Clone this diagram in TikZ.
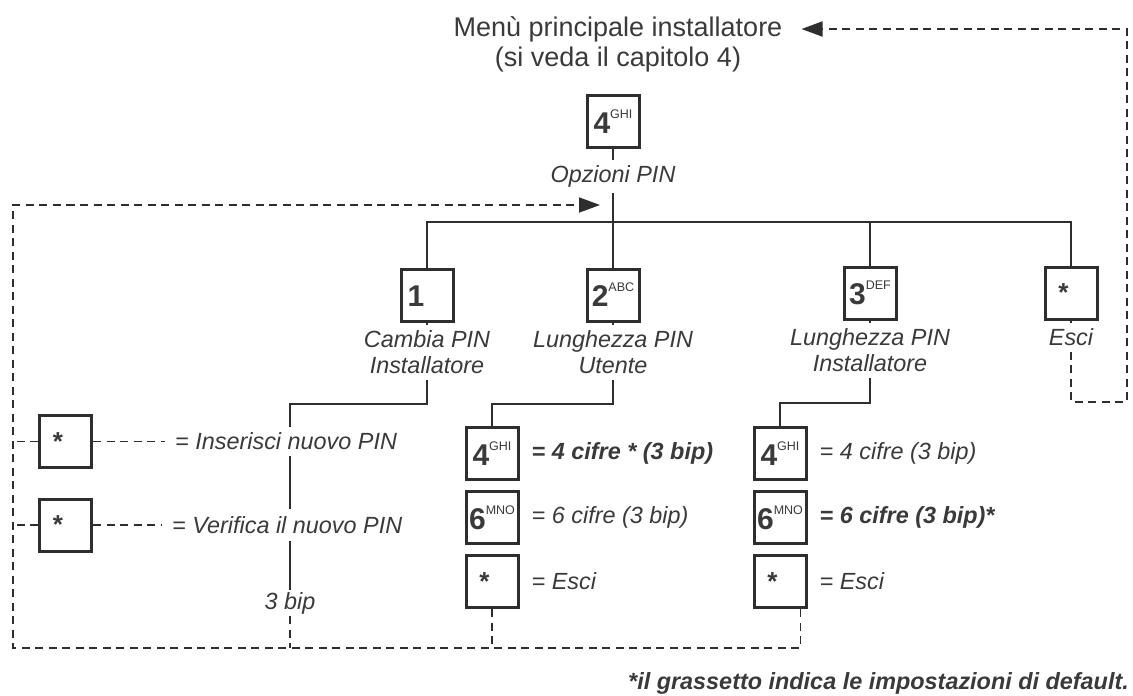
\documentclass[tikz,border=0pt]{standalone}
\usepackage{fontspec}
\setmainfont{Liberation Sans}
\usetikzlibrary{positioning,arrows.meta}

\definecolor{ink}{HTML}{2E2E2E}
\definecolor{textgray}{HTML}{3A3A3A}

\begin{document}
\begin{tikzpicture}[
    x=1pt, y=-1pt,
    node distance = 9pt,
    key/.style={draw=ink, line width=3pt, minimum width=52pt, minimum height=52pt, inner sep=0pt, text=textgray},
    lbl/.style={text=textgray, align=center, inner sep=2pt, outer sep=4pt, font=\fontsize{23.4}{26}\selectfont\itshape},
    opt/.style={text=textgray, inner sep=2pt, font=\fontsize{23.4}{26}\selectfont\itshape},
    optbold/.style={opt, font=\fontsize{23.4}{26}\selectfont\bfseries\itshape},
    tree/.style={draw=ink, line width=1.8pt},
    back/.style={draw=ink, line width=1.8pt, dash pattern=on 8pt off 5.5pt},
    tip/.style={-{Triangle[length=21pt, width=15pt]}},
]

% Define commands for the keypad keys (big digit, small letters)
\newcommand{\keycap}[2]{{\fontsize{30}{30}\selectfont\bfseries #1}\raisebox{15pt}{\fontsize{12.5}{12.5}\selectfont #2}}
\newcommand{\keystar}{{\fontsize{26}{26}\selectfont\bfseries *}\hspace*{15pt}}

% Canvas
\fill[white] (0,0) rectangle (1133,696);
\useasboundingbox (0,0) rectangle (1133,696);

% Installer main menu
\node[text=textgray, inner sep=2pt, font=\fontsize{27}{33}\selectfont] (menu) at (618,29) {Menù principale installatore};
\node[text=textgray, inner sep=2pt, font=\fontsize{27}{33}\selectfont] (menusub) at (618,59.5) {(si veda il capitolo 4)};

% PIN options key
\node[key] (pinkey) at (613,121.5) {\keycap{4}{GHI}};
\node[lbl, below=10.6pt of pinkey] (pinopt) {Opzioni PIN};

% First level keys with their labels
\node[key] (chgkey) at (427,295) {\keycap{1}{\phantom{GHI}}};
\node[key] (usrkey) at (613,295) {\keycap{2}{ABC}};
\node[key] (instkey) at (870,293) {\keycap{3}{DEF}};
\node[key] (exitkey) at (1071,293) {\keystar};

\node[lbl, below=2.1pt of chgkey] (chglbl) {Cambia PIN\\Installatore};
\node[lbl, below=2.1pt of usrkey] (usrlbl) {Lunghezza PIN\\Utente};
\node[lbl, below=2.1pt of instkey] (instlbl) {Lunghezza PIN\\Installatore};
\node[lbl, below=2.1pt of exitkey] (exitlbl) {Esci};

% Junction points
\coordinate (split) at (613,222);
\coordinate (chgjoin) at (290,404);
\coordinate (usrjoin) at (492,404);
\coordinate (instjoin) at (780,403);
\coordinate (backbl) at (13,648);
\coordinate (backtl) at (13,205);
\coordinate (backin) at (600,205);
\coordinate (exitbr) at (1127,402);
\coordinate (exittr) at (1127,29);

% Tree from the PIN options key
\draw[tree] (pinkey) -- (pinopt);
\draw[tree] (pinopt) -- (split);
\draw[tree] (chgkey) |- (split) -| (exitkey);
\draw[tree] (split) -- (usrkey);
\draw[tree] (instkey) -- (instkey |- split);
\draw[tree] (chgkey) -- (chglbl);
\draw[tree] (usrkey) -- (usrlbl);
\draw[tree] (instkey) -- (instlbl);
\draw[tree] (exitkey) -- (exitlbl);

% Change installer PIN: two star keys, then 3 beeps
\node[key] (newkey) at (65.5,441.5) {\keystar};
\node[key] (verkey) at (65.5,525) {\keystar};
\node[opt] (bip) at (290,603) {3 bip};
\draw[tree] (chglbl) |- (chgjoin) -- (bip);
\node[opt, inner ysep=5.5pt, fill=white, right=80pt of newkey] (newtxt) {= Inserisci nuovo PIN};
\node[opt, inner ysep=7pt, fill=white, right=77pt of verkey] (vertxt) {= Verifica il nuovo PIN};
\draw[back, shorten >=8pt] (newkey) -- (newtxt);
\draw[back, shorten >=8pt] (verkey) -- (vertxt);

% User PIN length
\node[key] (usr4) at (492,453.5) {\keycap{4}{GHI}};
\node[key, below=of usr4] (usr6) {\keycap{6}{MNO}};
\node[key, below=of usr6] (usrexit) {\keystar};
\node[optbold, right=10pt of usr4] (usr4txt) {= 4 cifre * (3 bip)};
\node[opt, right=10pt of usr6] (usr6txt) {= 6 cifre (3 bip)};
\node[opt, right=10pt of usrexit] (usrexittxt) {= Esci};
\draw[tree] (usrlbl) |- (usrjoin) -- (usr4);

% Installer PIN length
\node[key] (inst4) at (780,453.5) {\keycap{4}{GHI}};
\node[key, below=of inst4] (inst6) {\keycap{6}{MNO}};
\node[key, below=of inst6] (instexit) {\keystar};
\node[opt, right=10pt of inst4] (inst4txt) {= 4 cifre (3 bip)};
\node[optbold, right=10pt of inst6] (inst6txt) {= 6 cifre (3 bip)*};
\node[opt, right=10pt of instexit] (instexittxt) {= Esci};
\draw[tree] (instlbl) |- (instjoin) -- (inst4);

% Dashed return paths back to PIN options
\draw[back, tip] ([xshift=-7pt]instexit.south east) |- (backbl) -- (backtl) -- (backin);
\draw[back] (bip) -- (bip |- backbl);
\draw[back] (usrexit) -- (usrexit |- backbl);
\draw[back] (newkey) -- (newkey -| backbl);
\draw[back] (verkey) -- (verkey -| backbl);

% Dashed return path from exit to the main menu
\draw[back, tip, shorten >=17pt] (exitlbl) |- (exitbr) -- (exittr) -- (menu);

% Footnote
\node[optbold, anchor=east] (note) at (1131,683) {*il grassetto indica le impostazioni di default.};

\end{tikzpicture}
\end{document}
